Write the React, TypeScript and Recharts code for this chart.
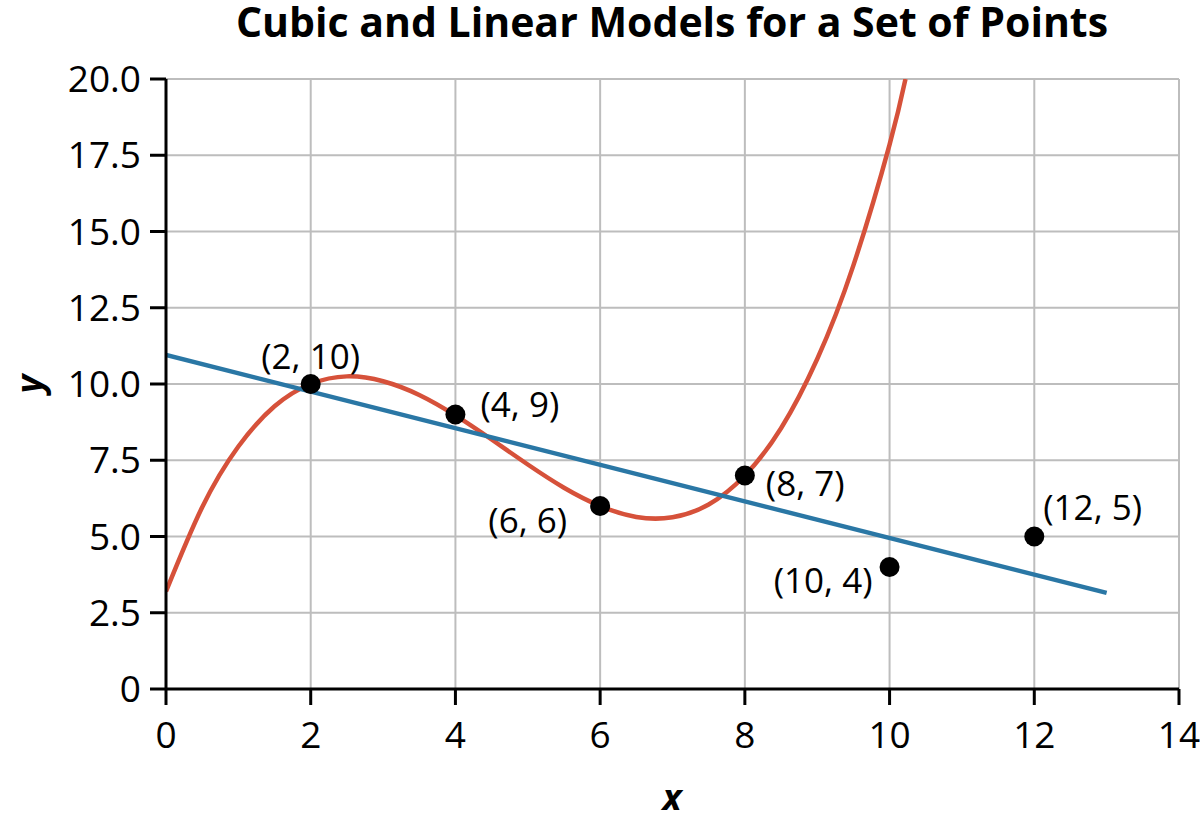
import { ComposedChart, Line, Scatter, XAxis, YAxis, CartesianGrid, LabelList } from 'recharts'

// cubic model, every half unit of x
const cubicX = [0, 0.5, 1, 1.5, 2, 2.5, 3, 3.5, 4, 4.5, 5, 5.5, 6, 6.5, 7, 7.5, 8, 8.5, 9, 9.5, 10, 10.22]
const cubicY = [3.2, 5.96, 7.95, 9.27, 10.0, 10.25, 10.09, 9.64, 8.97, 8.18, 7.36, 6.6, 6.0, 5.64, 5.63, 6.05, 7.0, 8.55, 10.82, 13.89, 17.85, 20.0]

// linear model end points
const linearX = [0, 13]
const linearY = [10.95, 3.15]

// the data points
const pointX = [2, 4, 6, 8, 10, 12]
const pointY = [10, 9, 6, 7, 4, 5]

const xTicks = [0, 2, 4, 6, 8, 10, 12, 14]
const yTicks = [0, 2.5, 5, 7.5, 10, 12.5, 15, 17.5, 20]

const cubicData = cubicX.map((x, i) => ({ x, y: cubicY[i] }))
const linearData = linearX.map((x, i) => ({ x, y: linearY[i] }))
const pointData = pointX.map((x, i) => ({ x, y: pointY[i], label: `(${x}, ${pointY[i]})` }))

// where each point label sits relative to its dot: [dx, dy, anchor]
const labelPlacement: [number, number, string][] = [
  [0, -29, 'middle'],
  [25, -11, 'start'],
  [-33, 13, 'end'],
  [21, 7, 'start'],
  [-17, 12, 'end'],
  [9, -30, 'start']
]

const FONT = '"Open Sans", "Noto Sans", sans-serif'

const renderLabel = (props: any) => {
  const { x, y, width, height, value, index } = props
  const [dx, dy, anchor] = labelPlacement[index]
  const cx = x + width / 2
  const cy = y + height / 2
  return (
    <text x={cx + dx} y={cy + dy} textAnchor={anchor} dominantBaseline="central"
      fontSize={35} fontFamily={FONT} fill="#000">
      {value}
    </text>
  )
}

export default function App() {
  return (
    <div style={{ position: 'absolute', left: 0, top: 0, width: 1200, height: 823, background: '#fff' }}>
      <svg width={1200} height={823} style={{ position: 'absolute', left: 0, top: 0, pointerEvents: 'none' }}>
        <text x={672} y={37} textAnchor="middle" fontSize={41}
          fontWeight="bold" fontFamily={FONT}>
          Cubic and Linear Models for a Set of Points
        </text>
        <text x={672} y={796} textAnchor="middle" dominantBaseline="central" fontSize={36}
          fontWeight="bold" fontStyle="italic" fontFamily={FONT}>
          x
        </text>
        <text x={28} y={384} textAnchor="middle" dominantBaseline="central" fontSize={36}
          fontWeight="bold" fontStyle="italic" fontFamily={FONT} transform="rotate(-90 28 384)">
          y
        </text>
      </svg>
      <ComposedChart width={1200} height={823} margin={{ top: 79, right: 21, bottom: 74, left: 76 }}
        style={{ position: 'absolute', left: 0, top: 0 }}>
        <CartesianGrid stroke="#bdbdbd" strokeWidth={2} />
        <XAxis type="number" dataKey="x" domain={[0, 14]} ticks={xTicks} allowDataOverflow
          height={60} tickSize={16} tickMargin={17}
          axisLine={{ stroke: '#000', strokeWidth: 3 }} tickLine={{ stroke: '#000', strokeWidth: 3 }}
          tick={{ fill: '#000', fontSize: 37, fontFamily: FONT }} />
        <YAxis type="number" dataKey="y" domain={[0, 20]} ticks={yTicks} allowDataOverflow
          width={90} tickSize={16} tickMargin={9}
          tickFormatter={(v: number) => (v === 0 ? '0' : v.toFixed(1))}
          axisLine={{ stroke: '#000', strokeWidth: 3 }} tickLine={{ stroke: '#000', strokeWidth: 3 }}
          tick={{ fill: '#000', fontSize: 37, fontFamily: FONT }} />
        <Line data={cubicData} dataKey="y" type="natural" stroke="#d6513a" strokeWidth={4.5}
          dot={false} activeDot={false} isAnimationActive={false} />
        <Line data={linearData} dataKey="y" type="linear" stroke="#2a77a5" strokeWidth={4.5}
          dot={false} activeDot={false} isAnimationActive={false} />
        <Scatter data={pointData} dataKey="y" fill="#000" isAnimationActive={false}
          shape={(p: any) => <circle cx={p.cx} cy={p.cy} r={10} fill="#000" />}>
          <LabelList dataKey="label" content={renderLabel} />
        </Scatter>
      </ComposedChart>
    </div>
  )
}
